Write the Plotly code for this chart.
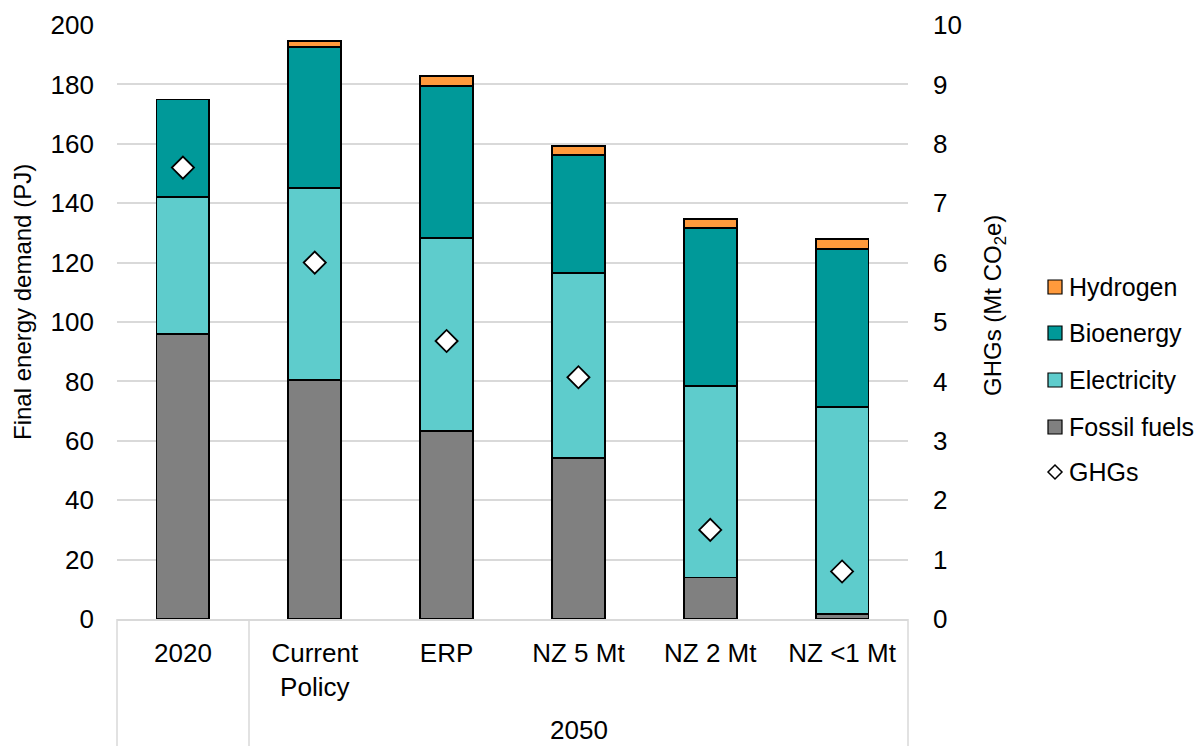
import plotly.graph_objects as go
from plotly.subplots import make_subplots

# Scenario categories (2020 base year, then 2050 scenarios)
categories = ["2020", "Current Policy", "ERP", "NZ 5 Mt", "NZ 2 Mt", "NZ <1 Mt"]
tick_labels = ["2020", "Current<br>Policy", "ERP", "NZ 5 Mt", "NZ 2 Mt", "NZ <1 Mt"]

# Final energy demand by carrier (PJ)
fossil_fuels = [96.0, 80.5, 63.3, 54.3, 14.0, 1.6]
electricity = [46.2, 64.5, 65.1, 62.3, 64.5, 69.9]
bioenergy = [32.7, 47.7, 51.1, 39.7, 53.1, 53.1]
hydrogen = [0.0, 2.0, 3.2, 3.0, 3.2, 3.3]

# Greenhouse gas emissions (Mt CO2e)
ghgs = [7.6, 6.0, 4.68, 4.07, 1.5, 0.8]

series = [
    ("Fossil fuels", fossil_fuels, "#808080"),
    ("Electricity", electricity, "#5ECCCC"),
    ("Bioenergy", bioenergy, "#009999"),
    ("Hydrogen", hydrogen, "#FF9A3C"),
]

FONT = "Liberation Sans, Arial, sans-serif"
TICK_FS = 26
TEXT_FS = 25
GRID = "#D9D9D9"

# Pixel geometry of the plot area
W, H = 1202, 746
L, R, T, B = 117, 908, 25, 619
PW, PH = R - L, B - T


def px_x(px):
    return (px - L) / PW


def px_y(py):
    return (B - py) / PH


fig = make_subplots(specs=[[{"secondary_y": True}]])

for name, vals, color in series:
    fig.add_trace(
        go.Bar(
            x=categories,
            y=vals,
            name=name,
            marker=dict(color=color, line=dict(color="black", width=1.8)),
            width=0.4,
            showlegend=False,
        ),
        secondary_y=False,
    )

fig.add_trace(
    go.Scatter(
        x=categories,
        y=ghgs,
        name="GHGs",
        mode="markers",
        marker=dict(symbol="diamond", size=17, color="white",
                    line=dict(color="black", width=1.8)),
        showlegend=False,
    ),
    secondary_y=True,
)

fig.update_layout(
    width=W,
    height=H,
    margin=dict(l=L, r=W - R, t=T, b=H - B, pad=0, autoexpand=False),
    barmode="stack",
    plot_bgcolor="white",
    paper_bgcolor="white",
    font=dict(family=FONT, size=TEXT_FS, color="black"),
    showlegend=False,
)

fig.update_xaxes(
    type="category",
    categoryorder="array",
    categoryarray=categories,
    tickvals=categories,
    ticktext=tick_labels,
    domain=[0, 1],
    showgrid=False,
    showline=True,
    linecolor=GRID,
    linewidth=1.5,
    ticks="",
    ticklabelstandoff=10,
    tickfont=dict(size=TICK_FS),
    range=[-0.5, 5.5],
    automargin=False,
)

fig.update_yaxes(
    range=[0, 200],
    dtick=20,
    showgrid=True,
    gridcolor=GRID,
    gridwidth=1.5,
    zeroline=False,
    showline=False,
    ticks="",
    ticklabelstandoff=22,
    tickfont=dict(size=TICK_FS),
    automargin=False,
    secondary_y=False,
)

fig.update_yaxes(
    range=[0, 10],
    dtick=1,
    showgrid=False,
    zeroline=False,
    showline=False,
    ticks="",
    ticklabelstandoff=24,
    tickfont=dict(size=TICK_FS),
    automargin=False,
    secondary_y=True,
)

shapes = []
annotations = []

# Group dividers below the category axis
for xp in (L, 249, R):
    shapes.append(dict(type="line", xref="paper", yref="paper",
                       x0=px_x(xp), x1=px_x(xp), y0=0, y1=px_y(H),
                       line=dict(color=GRID, width=1.5)))

annotations.append(dict(text="2050", xref="paper", yref="paper",
                        x=px_x((249 + R) / 2), y=px_y(730),
                        xanchor="center", yanchor="middle",
                        showarrow=False, font=dict(size=TICK_FS)))

# Axis titles
annotations.append(dict(text="Final energy demand (PJ)", xref="paper", yref="paper",
                        x=px_x(22), y=px_y(302), textangle=-90,
                        xanchor="center", yanchor="middle",
                        showarrow=False, font=dict(size=24)))
annotations.append(dict(text="GHGs (Mt CO<sub>2</sub>e)", xref="paper", yref="paper",
                        x=px_x(994), y=px_y(306), textangle=-90,
                        xanchor="center", yanchor="middle",
                        showarrow=False, font=dict(size=24)))

# Legend
legend_rows = [("Hydrogen", "#FF9A3C", 287), ("Bioenergy", "#009999", 333),
               ("Electricity", "#5ECCCC", 380), ("Fossil fuels", "#808080", 427)]
box = 14
bx0 = 1048
for name, color, cy in legend_rows:
    shapes.append(dict(type="rect", xref="paper", yref="paper",
                       x0=px_x(bx0), x1=px_x(bx0 + box),
                       y0=px_y(cy + box / 2), y1=px_y(cy - box / 2),
                       fillcolor=color, line=dict(color="black", width=1.2)))
    annotations.append(dict(text=name, xref="paper", yref="paper",
                            x=px_x(1067), y=px_y(cy), xanchor="left", yanchor="middle",
                            showarrow=False, font=dict(size=TEXT_FS)))

gy = 472
d = 7
shapes.append(dict(type="path", xref="paper", yref="paper",
                   path=(f"M {px_x(bx0 + box/2 - d)} {px_y(gy)} "
                         f"L {px_x(bx0 + box/2)} {px_y(gy - d)} "
                         f"L {px_x(bx0 + box/2 + d)} {px_y(gy)} "
                         f"L {px_x(bx0 + box/2)} {px_y(gy + d)} Z"),
                   fillcolor="white", line=dict(color="black", width=1.5)))
annotations.append(dict(text="GHGs", xref="paper", yref="paper",
                        x=px_x(1067), y=px_y(gy), xanchor="left", yanchor="middle",
                        showarrow=False, font=dict(size=TEXT_FS)))

fig.update_layout(shapes=shapes, annotations=annotations)

fig.write_html("out.html")
